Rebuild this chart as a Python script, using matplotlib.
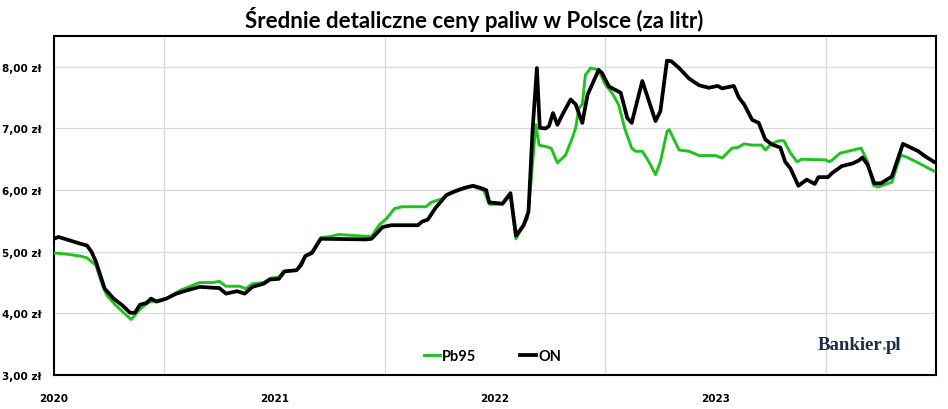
import numpy as np
import matplotlib
matplotlib.use("Agg")
import matplotlib.pyplot as plt

# time in years since start of 2020
pb95_t = [0.0, 0.06, 0.12, 0.15, 0.19, 0.22, 0.24, 0.28, 0.35, 0.39, 0.43, 0.51, 0.57, 0.66,
          0.72, 0.75, 0.78, 0.84, 0.87, 0.90, 0.95, 0.98, 1.02, 1.04, 1.10, 1.14, 1.17, 1.21,
          1.26, 1.29, 1.415, 1.44, 1.476, 1.506, 1.544, 1.58, 1.687, 1.71, 1.76, 1.785, 1.84,
          1.865, 1.90, 1.93, 1.95, 1.974, 2.034, 2.07, 2.095, 2.147, 2.162, 2.185, 2.20, 2.238,
          2.255, 2.283, 2.32, 2.35, 2.366, 2.38, 2.396, 2.41, 2.434, 2.47, 2.50, 2.53, 2.56,
          2.59, 2.62, 2.637, 2.668, 2.698, 2.728, 2.75, 2.78, 2.79, 2.835, 2.88, 2.926, 3.0,
          3.03, 3.075, 3.10, 3.13, 3.166, 3.21, 3.226, 3.25, 3.286, 3.31, 3.34, 3.37, 3.39,
          3.50, 3.515, 3.53, 3.565, 3.66, 3.69, 3.716, 3.736, 3.80, 3.84, 3.87, 3.91, 3.99]
pb95 = [4.98, 4.96, 4.93, 4.90, 4.78, 4.45, 4.29, 4.13, 3.90, 4.07, 4.18, 4.24, 4.37, 4.50,
        4.50, 4.52, 4.44, 4.44, 4.40, 4.48, 4.50, 4.57, 4.59, 4.68, 4.70, 4.94, 5.00, 5.23,
        5.25, 5.28, 5.25, 5.25, 5.44, 5.53, 5.70, 5.73, 5.73, 5.80, 5.86, 5.92, 6.00,
        6.03, 6.06, 6.02, 5.99, 5.77, 5.77, 5.92, 5.21, 5.54, 6.08, 7.06, 6.73, 6.70,
        6.68, 6.44, 6.57, 6.84, 7.01, 7.33, 7.39, 7.87, 7.98, 7.95, 7.71, 7.58, 7.39,
        6.98, 6.68, 6.63, 6.63, 6.46, 6.25, 6.46, 6.95, 6.98, 6.65, 6.63, 6.56, 6.56,
        6.52, 6.68, 6.69, 6.75, 6.73, 6.73, 6.65, 6.74, 6.80, 6.80, 6.60, 6.46, 6.50,
        6.49, 6.46, 6.49, 6.60, 6.68, 6.46, 6.08, 6.05, 6.13, 6.57, 6.53, 6.46, 6.31]

on_t = [0.0, 0.02, 0.12, 0.15, 0.17, 0.19, 0.23, 0.27, 0.31, 0.345, 0.367, 0.39, 0.42, 0.44,
        0.465, 0.51, 0.555, 0.60, 0.66, 0.75, 0.78, 0.83, 0.865, 0.90, 0.95, 0.98, 1.02,
        1.045, 1.10, 1.12, 1.14, 1.17, 1.21, 1.415, 1.44, 1.49, 1.53, 1.65, 1.67, 1.695,
        1.73, 1.78, 1.81, 1.84, 1.865, 1.90, 1.93, 1.96, 1.974, 2.034, 2.07, 2.095, 2.13,
        2.152, 2.17, 2.19, 2.203, 2.23, 2.245, 2.263, 2.283, 2.305, 2.343, 2.366, 2.396,
        2.42, 2.46, 2.47, 2.485, 2.517, 2.57, 2.60, 2.62, 2.668, 2.728, 2.75, 2.78, 2.80,
        2.835, 2.88, 2.926, 2.97, 3.01, 3.03, 3.083, 3.106, 3.13, 3.166, 3.196, 3.226,
        3.256, 3.294, 3.316, 3.34, 3.376, 3.414, 3.45, 3.467, 3.51, 3.53, 3.573, 3.62,
        3.65, 3.666, 3.69, 3.72, 3.75, 3.80, 3.85, 3.92, 3.95, 3.99]
on = [5.21, 5.24, 5.13, 5.10, 5.00, 4.84, 4.40, 4.24, 4.13, 4.01, 4.01, 4.14, 4.17, 4.24,
      4.19, 4.24, 4.32, 4.37, 4.43, 4.41, 4.32, 4.36, 4.32, 4.43, 4.48, 4.55, 4.56,
      4.68, 4.70, 4.78, 4.93, 4.98, 5.21, 5.20, 5.21, 5.40, 5.43, 5.43, 5.49, 5.52,
      5.71, 5.92, 5.97, 6.01, 6.04, 6.07, 6.04, 6.00, 5.80, 5.78, 5.95, 5.26, 5.43,
      5.65, 6.95, 7.98, 7.01, 7.00, 7.04, 7.25, 7.06, 7.22, 7.47, 7.39, 7.09,
      7.55, 7.87, 7.95, 7.90, 7.68, 7.58, 7.17, 7.09, 7.77, 7.12, 7.28, 8.10, 8.09,
      7.98, 7.81, 7.70, 7.66, 7.69, 7.65, 7.69, 7.50, 7.39, 7.14, 7.09, 6.82,
      6.74, 6.69, 6.46, 6.35, 6.07, 6.17, 6.10, 6.21, 6.21, 6.28, 6.39, 6.43,
      6.48, 6.53, 6.41, 6.11, 6.11, 6.22, 6.75, 6.63, 6.55, 6.46]

years = [2020, 2021, 2022, 2023]
y_ticks = [3, 4, 5, 6, 7, 8]

fig = plt.figure(figsize=(9.48, 4.10), dpi=100)
ax = fig.add_axes([54/948, 1 - 376/410, 882/948, 339/410])

ax.plot(2020 + np.array(pb95_t), pb95, color="#1ec41e", lw=2.1, label="Pb95", zorder=3)
ax.plot(2020 + np.array(on_t), on, color="black", lw=2.7, label="ON", zorder=4)

ax.set_xlim(2020, 2024)
ax.set_ylim(3, 8.5)

ax.set_xticks(years)
ax.set_xticklabels([str(y) for y in years], fontweight="bold", fontsize=7.5)
ax.set_xticks(np.arange(2020, 2024.01, 0.5), minor=True)
ax.set_yticks(y_ticks)
ax.set_yticklabels(["%d,00 zł" % v for v in y_ticks], fontweight="bold", fontsize=7.5, ha="left")
ax.tick_params(axis="both", which="both", length=0)
ax.tick_params(axis="y", pad=37.5)
ax.tick_params(axis="x", pad=13)

ax.grid(True, which="minor", axis="x", color="#d9d9d9", lw=0.9)
ax.grid(True, which="major", axis="y", color="#d9d9d9", lw=0.9)
ax.set_axisbelow(True)
for s in ax.spines.values():
    s.set_linewidth(1.5)
    s.set_color("black")

fig.text(0.5, 1 - 20/410, "Średnie detaliczne ceny paliw w Polsce (za litr)",
         ha="center", va="center", fontsize=16, fontweight="bold", family="Lato")

leg = ax.legend(loc="center", bbox_to_anchor=(0.497, 0.056), ncol=2, frameon=False,
                handlelength=1.1, handletextpad=0.15, columnspacing=3.0,
                prop={"family": "Lato", "weight": "bold", "size": 10.5})

# logo: "Bankier" navy, "." orange, "pl" navy, placed by measuring ghost strings
logo_kw = dict(family="Liberation Serif", fontweight="bold", fontsize=13.5)
lx, ly = 0.866, 0.077
renderer = fig.canvas.get_renderer()
ends = []
for s in ["Bankier.", "Bankier.pl"]:
    g = ax.text(lx, ly, s, transform=ax.transAxes, va="baseline", ha="left", **logo_kw)
    ends.append(g.get_window_extent(renderer).x1)
    g.remove()
base = ax.transAxes.transform((lx, ly))
ax.text(lx, ly, "Bankier", transform=ax.transAxes, color="#1c2b4b", va="baseline", ha="left",
        zorder=5, **logo_kw)
ax.annotate(".", xy=(ends[0], base[1]), xycoords="figure pixels", va="baseline", ha="right",
            color="#e8541e", zorder=6, **logo_kw)
ax.annotate("pl", xy=(ends[1], base[1]), xycoords="figure pixels", va="baseline", ha="right",
            color="#1c2b4b", zorder=6, **logo_kw)

fig.savefig("out.png", dpi=100)
